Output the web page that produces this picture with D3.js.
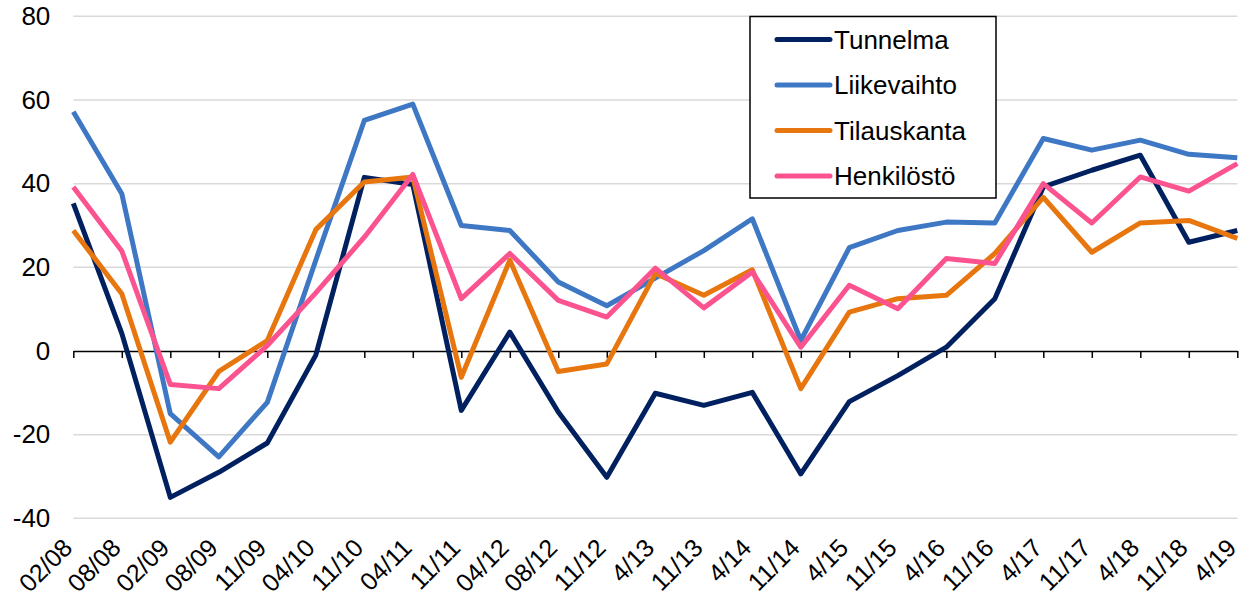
<!DOCTYPE html>
<html>
<head>
<meta charset="utf-8">
<script src="https://cdn.jsdelivr.net/npm/d3@7"></script>
<style>
  body { margin: 0; background: #fff; }
  text { font-family: "Liberation Sans", Arial, sans-serif; }
</style>
</head>
<body>
<div class="canvas"></div>
<script>
const categories = ['02/08', '08/08', '02/09', '08/09', '11/09', '04/10', '11/10', '04/11', '11/11', '04/12',
    '08/12', '11/12', '4/13', '11/13', '4/14', '11/14', '4/15', '11/15', '4/16', '11/16',
    '4/17', '11/17', '4/18', '11/18', '4/19'];

const tunnelma = [35.3, 4.2, -35, -29, -22, -1, 41.5, 39.8, -14.2, 4.5,
    -14.6, -30.2, -10.1, -13, -9.9, -29.4, -12.1, -5.9, 0.9, 12.5,
    39.2, 43.2, 46.8, 26, 28.8];
const liikevaihto = [57.2, 37.6, -15, -25.3, -12.3, 21.7, 55.1, 59, 30, 28.8,
    16.5, 10.8, 17.4, 24, 31.6, 2.5, 24.7, 28.8, 30.8, 30.6,
    50.8, 48, 50.4, 47, 46.2];
const tilauskanta = [28.8, 13.7, -21.8, -4.9, 2.5, 29, 40.4, 41.6, -6.3, 21.7,
    -4.9, -3.1, 18.5, 13.3, 19.4, -9, 9.3, 12.5, 13.3, 23.3,
    36.7, 23.6, 30.6, 31.2, 26.9];
const henkilosto = [39.2, 23.9, -8, -9, 1.3, 13.9, 27.2, 42.2, 12.5, 23.3,
    12.1, 8.1, 19.8, 10.3, 18.9, 0.9, 15.7, 10.1, 22.1, 20.9,
    40, 30.6, 41.6, 38.2, 44.8];

const seriesNames = ['Tunnelma', 'Liikevaihto', 'Tilauskanta', 'Henkilöstö'];
const seriesColors = ['#002060', '#3E78C5', '#E8760F', '#FB5390'];
const yTicks = [-40, -20, 0, 20, 40, 60, 80];

const series = seriesNames.map((name, i) => ({
    name,
    color: seriesColors[i],
    values: [tunnelma, liikevaihto, tilauskanta, henkilosto][i]
}));

const dims = { width: 1241, height: 598 };
const plot = { left: 73.3, right: 1237.3, top: 16.3, bottom: 518.3 };

const svg = d3.select('.canvas')
    .append('svg')
    .attr('width', dims.width)
    .attr('height', dims.height);

const x = d3.scalePoint()
    .domain(categories)
    .range([plot.left, plot.right]);

const y = d3.scaleLinear()
    .domain([-40, 80])
    .range([plot.bottom, plot.top]);

// gridlines
svg.append('g')
    .selectAll('line')
    .data(yTicks.filter(d => d !== 0))
    .enter().append('line')
        .attr('x1', plot.left)
        .attr('x2', plot.right)
        .attr('y1', d => y(d))
        .attr('y2', d => y(d))
        .attr('stroke', '#D9D9D9')
        .attr('stroke-width', 1.5);

// y axis labels (plain hyphen for negatives, like the original)
const yAxis = d3.axisLeft(y)
    .tickValues(yTicks)
    .tickFormat(d => String(d))
    .tickSize(0)
    .tickPadding(23);

svg.append('g')
    .attr('transform', `translate(${plot.left}, 0)`)
    .call(yAxis)
    .call(g => g.select('.domain').remove())
    .selectAll('text')
        .attr('font-size', 26)
        .attr('font-family', '"Liberation Sans", Arial, sans-serif')
        .attr('fill', '#000');

// zero line with ticks
const zeroAxis = d3.axisBottom(x)
    .tickSize(7)
    .tickSizeOuter(0)
    .tickFormat('');

svg.append('g')
    .attr('transform', `translate(0, ${y(0)})`)
    .call(zeroAxis)
    .call(g => g.select('.domain').attr('stroke', '#000').attr('stroke-width', 1.5))
    .call(g => g.selectAll('.tick line').attr('stroke', '#000').attr('stroke-width', 1.5));

// category labels at the bottom, rotated
const xAxis = d3.axisBottom(x)
    .tickSize(0)
    .tickPadding(0);

svg.append('g')
    .attr('transform', `translate(0, ${plot.bottom})`)
    .call(xAxis)
    .call(g => g.select('.domain').remove())
    .selectAll('text')
        .attr('font-size', 25)
        .attr('font-family', '"Liberation Sans", Arial, sans-serif')
        .attr('fill', '#000')
        .attr('text-anchor', 'end')
        .attr('y', 0)
        .attr('dy', 0)
        .attr('transform', 'translate(0, 31) rotate(-45)');

// lines
const line = d3.line()
    .x((d, i) => x(categories[i]))
    .y(d => y(d));

svg.append('g')
    .selectAll('path')
    .data(series)
    .enter().append('path')
        .attr('d', d => line(d.values))
        .attr('fill', 'none')
        .attr('stroke', d => d.color)
        .attr('stroke-width', 5)
        .attr('stroke-linejoin', 'round');

// legend
const legendGroup = svg.append('g')
    .attr('transform', 'translate(750, 16.5)');

legendGroup.append('rect')
    .attr('width', 246)
    .attr('height', 181.5)
    .attr('fill', '#fff')
    .attr('stroke', '#000')
    .attr('stroke-width', 1.5);

const items = legendGroup.selectAll('g.item')
    .data(series)
    .enter().append('g')
        .attr('class', 'item')
        .attr('transform', (d, i) => `translate(0, ${23 + i * 45.5})`);

items.append('line')
    .attr('x1', 27)
    .attr('x2', 80)
    .attr('stroke', d => d.color)
    .attr('stroke-width', 5)
    .attr('stroke-linecap', 'round');

items.append('text')
    .attr('x', 84)
    .attr('y', 9)
    .attr('font-size', 26)
    .attr('fill', '#000')
    .text(d => d.name);
</script>
</body>
</html>
